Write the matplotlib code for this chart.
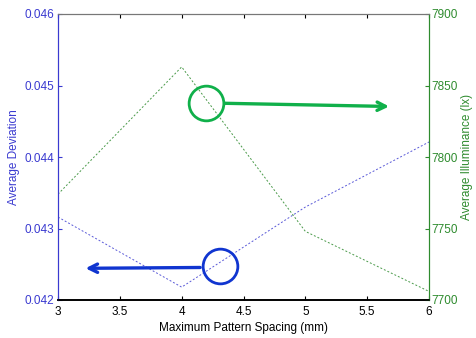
import matplotlib
matplotlib.use("Agg")
import matplotlib.pyplot as plt

plt.rcParams['font.family'] = ['Liberation Sans', 'DejaVu Sans']

spacing = [3, 4, 5, 6]
deviation = [0.04316, 0.04218, 0.0433, 0.04421]
illuminance = [7774, 7863, 7748, 7706]

x_ticks = [3, 3.5, 4, 4.5, 5, 5.5, 6]
dev_ticks = [0.042, 0.043, 0.044, 0.045, 0.046]
lux_ticks = [7700, 7750, 7800, 7850, 7900]

blue_axis = '#3a3ad0'
green_axis = '#2e8b2e'

fig = plt.figure(figsize=(4.76, 3.38), dpi=100)
ax = fig.add_axes([58 / 476, 38 / 338, 371 / 476, 286 / 338])
ax2 = ax.twinx()

ax.plot(spacing, deviation, linestyle=(0, (2, 2)), color='#5a5ad8', linewidth=0.7)
ax2.plot(spacing, illuminance, linestyle=(0, (2, 2)), color='#4a9a4a', linewidth=0.7)

ax.set_xlim(3, 6)
ax.set_ylim(0.042, 0.046)
ax2.set_ylim(7700, 7900)
ax.set_xticks(x_ticks)
ax.set_xticklabels(['3', '3.5', '4', '4.5', '5', '5.5', '6'])
ax.set_yticks(dev_ticks)
ax.set_yticklabels(['0.042', '0.043', '0.044', '0.045', '0.046'])
ax2.set_yticks(lux_ticks)

fs = 8.5
ax.tick_params(axis='x', direction='in', top=True, length=3, labelsize=fs, pad=4, colors='black')
ax.tick_params(axis='y', direction='in', length=3, labelsize=fs, colors=blue_axis, pad=3)
ax2.tick_params(axis='y', direction='in', length=3, labelsize=fs, colors=green_axis, pad=2)

for a in (ax, ax2):
    a.spines['left'].set_color(blue_axis)
    a.spines['right'].set_color(green_axis)
    a.spines['top'].set_color('#777777')
    a.spines['bottom'].set_color('black')
    a.spines['bottom'].set_linewidth(1.2)

ax.set_xlabel('Maximum Pattern Spacing (mm)', fontsize=fs, labelpad=3)
ax.set_ylabel('Average Deviation', fontsize=fs, color=blue_axis, labelpad=3)
ax2.set_ylabel('Average Illuminance (lx)', fontsize=fs, color=green_axis, labelpad=2)

# Circled markers with arrows pointing to each series' axis
green_mark = '#10b04a'
blue_mark = '#1035d0'
ax2.plot([4.194], [7837.6], marker='o', markersize=25, markerfacecolor='none',
         markeredgecolor=green_mark, markeredgewidth=2, zorder=5)
ax2.annotate('', xy=(5.70, 7835.3), xytext=(4.326, 7837.6),
             arrowprops=dict(arrowstyle='->,head_length=0.6,head_width=0.3',
                             color=green_mark, lw=2.4))
ax.plot([4.31], [0.042476], marker='o', markersize=25, markerfacecolor='none',
        markeredgecolor=blue_mark, markeredgewidth=2, zorder=5)
ax.annotate('', xy=(3.20, 0.042443), xytext=(4.172, 0.042455),
            arrowprops=dict(arrowstyle='->,head_length=0.6,head_width=0.3',
                            color=blue_mark, lw=2.4))

fig.savefig('out.png', dpi=100)
